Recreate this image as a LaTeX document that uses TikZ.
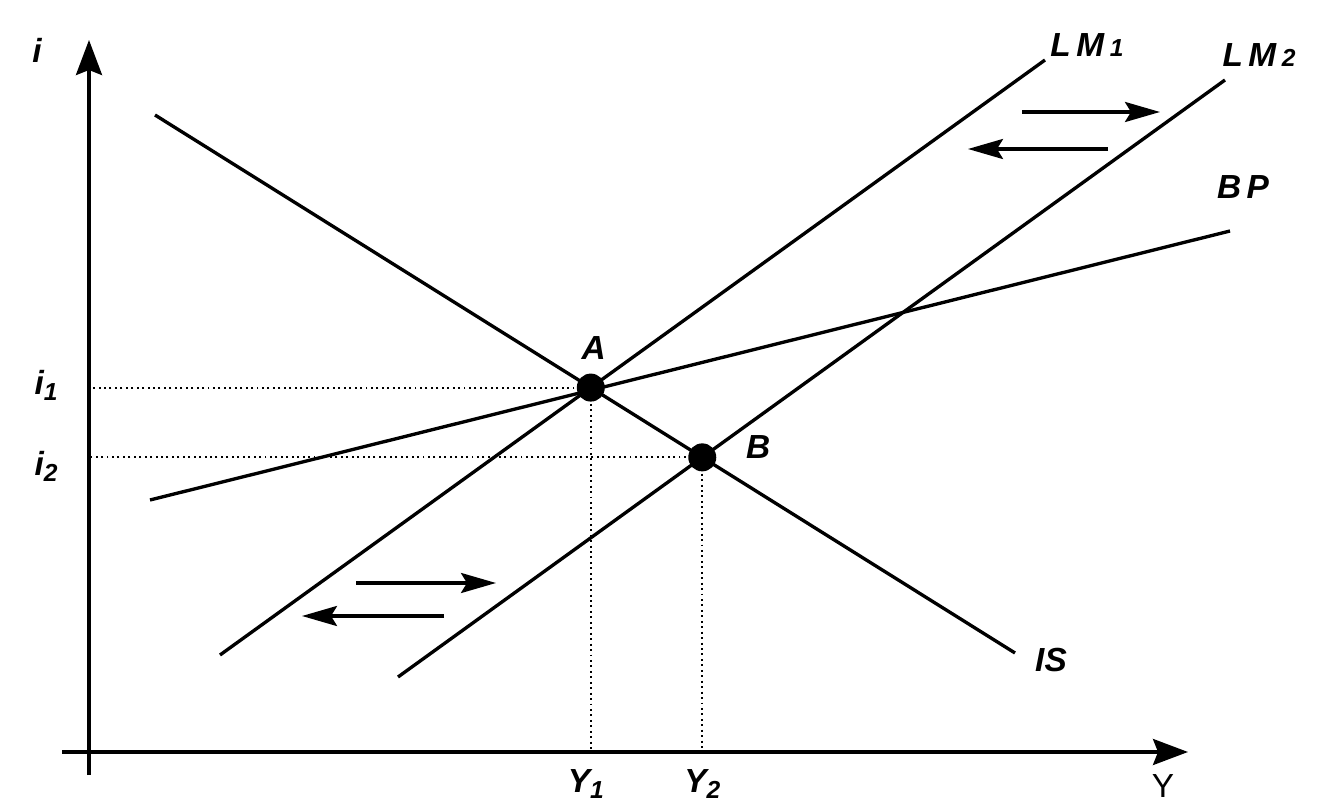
\documentclass[tikz,border=0pt]{standalone}
\usepackage{fontspec}
\setmainfont{Liberation Sans}
\usetikzlibrary{arrows.meta, calc}

\begin{document}
\begin{tikzpicture}[
    curve/.style={
        line width=1.9pt,
        color=black
    },
    axisline/.style={
        line width=1.9pt,
        -{Stealth[length=7mm, width=5.2mm, inset=1mm]}
    },
    shiftarrow/.style={
        line width=1.9pt,
        -{Stealth[length=7mm, width=4mm, inset=1.2mm]}
    },
    guide/.style={
        dotted,
        line width=1.1pt
    },
    txt/.style={
        font=\fontsize{19}{22}\selectfont\bfseries\itshape,
        inner sep=0pt
    },
    eqpoint/.style={
        circle,
        fill=black,
        inner sep=0pt,
        minimum size=5.6mm
    }
]
\useasboundingbox (-1.78, -1.06) rectangle (24.74, 15.04);

% Axes
\coordinate (O) at (0, 0);
\draw[axisline] (0, -0.46) -- (0, 14.24);
\draw[axisline] (-0.54, 0) -- (21.98, 0);
\node[txt] (iaxis) at (-1.04, 14.04) {i};
\node[txt, font=\fontsize{19}{22}\selectfont] (Yaxis) at (21.48, -0.68) {Y};

% Curves
\coordinate (is1) at (1.32, 12.74);
\coordinate (is2) at (18.52, 1.98);
\coordinate (lma1) at (2.62, 1.94);
\coordinate (lma2) at (19.12, 13.84);
\coordinate (lmb1) at (6.18, 1.50);
\coordinate (lmb2) at (22.72, 13.44);
\coordinate (bp1) at (1.22, 5.04);
\coordinate (bp2) at (22.82, 10.42);

\draw[curve] (is1) -- (is2);
\draw[curve] (lma1) -- (lma2);
\draw[curve] (lmb1) -- (lmb2);
\draw[curve] (bp1) -- (bp2);

\coordinate (A) at (intersection of is1--is2 and lma1--lma2);
\coordinate (B) at (intersection of is1--is2 and lmb1--lmb2);

% Guides to the axes
\draw[guide] (A) -- (A |- O);
\draw[guide] (B) -- (B |- O);
\draw[guide] (A) -- (A -| O);
\draw[guide] (B) -- (B -| O);

% Equilibria
\node[eqpoint] (pA) at (A) {};
\node[eqpoint] (pB) at (B) {};
\node[txt] (lA) at ($(A) + (0.06, 0.8)$) {A};
\node[txt] (lB) at ($(B) + (1.12, 0.2)$) {B};

% Curve labels
\node[txt] (lLM1) at (19.96, 14.14) {L\,M\,{\fontsize{14}{16}\selectfont 1}};
\node[txt] (lLM2) at (23.40, 13.94) {L\,M\,{\fontsize{14}{16}\selectfont 2}};
\node[txt] (lBP) at (23.08, 11.30) {B\,P};
\node[txt] (lIS) at (19.24, 1.84) {IS};

% Axis values
\node[txt] (li1) at (-0.86, 7.34) {i\raisebox{-0.35ex}{\fontsize{14}{16}\selectfont 1}};
\node[txt] (li2) at (-0.86, 5.72) {i\raisebox{-0.35ex}{\fontsize{14}{16}\selectfont 2}};
\node[txt] (lY1) at ($(A |- O) + (-0.1, -0.64)$) {Y\raisebox{-0.35ex}{\fontsize{14}{16}\selectfont 1}};
\node[txt] (lY2) at ($(B |- O) + (0, -0.64)$) {Y\raisebox{-0.35ex}{\fontsize{14}{16}\selectfont 2}};

% Shifts of LM
\coordinate (ur1) at (18.66, 12.80);
\coordinate (ur2) at (21.42, 12.80);
\coordinate (ul1) at (20.38, 12.06);
\coordinate (ul2) at (17.58, 12.06);
\coordinate (dr1) at (5.34, 3.38);
\coordinate (dr2) at (8.14, 3.38);
\coordinate (dl1) at (7.10, 2.72);
\coordinate (dl2) at (4.26, 2.72);
\draw[shiftarrow] (ur1) -- (ur2);
\draw[shiftarrow] (ul1) -- (ul2);
\draw[shiftarrow] (dr1) -- (dr2);
\draw[shiftarrow] (dl1) -- (dl2);

\end{tikzpicture}
\end{document}
